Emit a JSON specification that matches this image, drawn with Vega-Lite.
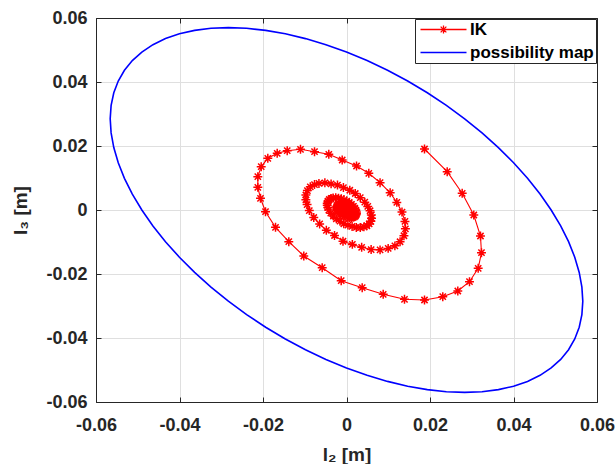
{
"$schema": "https://vega.github.io/schema/vega-lite/v6.json",
"width": 501, "height": 384,
"autosize": {"type": "none"},
"padding": {"left": 96, "top": 18, "right": 19, "bottom": 62},
"background": "white",
"config": {
 "view": {"stroke": "#262626", "strokeWidth": 1},
 "axis": {"domainColor": "#262626", "domainWidth": 1, "tickColor": "#262626", "tickSize": -5, "tickWidth": 1, "gridColor": "#dfdfdf", "gridWidth": 1, "labelFont": "Liberation Sans", "labelFontSize": 18, "labelFontWeight": "bold", "labelColor": "#262626", "titleFont": "Liberation Sans", "titleFontSize": 19, "titleFontWeight": "bold", "titleColor": "#262626", "labelFlush": false, "labelOverlap": false}
},
"datasets": {
 "ellipse": [
  {"i":0,"x":0.05660,"y":-0.02850},{"i":1,"x":0.05638,"y":-0.03269},{"i":2,"x":0.05574,"y":-0.03664},{"i":3,"x":0.05467,"y":-0.04031},{"i":4,"x":0.05319,"y":-0.04366},{"i":5,"x":0.05130,"y":-0.04669},{"i":6,"x":0.04902,"y":-0.04936},{"i":7,"x":0.04636,"y":-0.05166},{"i":8,"x":0.04336,"y":-0.05356},{"i":9,"x":0.04002,"y":-0.05506},{"i":10,"x":0.03638,"y":-0.05613},{"i":11,"x":0.03246,"y":-0.05678},{"i":12,"x":0.02830,"y":-0.05700},{"i":13,"x":0.02392,"y":-0.05678},{"i":14,"x":0.01936,"y":-0.05613},{"i":15,"x":0.01465,"y":-0.05506},{"i":16,"x":0.00983,"y":-0.05356},{"i":17,"x":0.00493,"y":-0.05166},{"i":18,"x":0.0,"y":-0.04936},{"i":19,"x":-0.00493,"y":-0.04669},{"i":20,"x":-0.00983,"y":-0.04366},{"i":21,"x":-0.01465,"y":-0.04031},{"i":22,"x":-0.01936,"y":-0.03664},{"i":23,"x":-0.02392,"y":-0.03269},{"i":24,"x":-0.02830,"y":-0.02850},{"i":25,"x":-0.03246,"y":-0.02409},{"i":26,"x":-0.03638,"y":-0.01950},{"i":27,"x":-0.04002,"y":-0.01475},{"i":28,"x":-0.04336,"y":-0.00990},{"i":29,"x":-0.04636,"y":-0.00497},{"i":30,"x":-0.04902,"y":0.0},{"i":31,"x":-0.05130,"y":0.00497},{"i":32,"x":-0.05319,"y":0.00990},{"i":33,"x":-0.05467,"y":0.01475},{"i":34,"x":-0.05574,"y":0.01950},{"i":35,"x":-0.05638,"y":0.02409},{"i":36,"x":-0.05660,"y":0.02850},{"i":37,"x":-0.05638,"y":0.03269},{"i":38,"x":-0.05574,"y":0.03664},{"i":39,"x":-0.05467,"y":0.04031},{"i":40,"x":-0.05319,"y":0.04366},{"i":41,"x":-0.05130,"y":0.04669},{"i":42,"x":-0.04902,"y":0.04936},{"i":43,"x":-0.04636,"y":0.05166},{"i":44,"x":-0.04336,"y":0.05356},{"i":45,"x":-0.04002,"y":0.05506},{"i":46,"x":-0.03638,"y":0.05613},{"i":47,"x":-0.03246,"y":0.05678},{"i":48,"x":-0.02830,"y":0.05700},{"i":49,"x":-0.02392,"y":0.05678},{"i":50,"x":-0.01936,"y":0.05613},{"i":51,"x":-0.01465,"y":0.05506},{"i":52,"x":-0.00983,"y":0.05356},{"i":53,"x":-0.00493,"y":0.05166},{"i":54,"x":0.0,"y":0.04936},{"i":55,"x":0.00493,"y":0.04669},{"i":56,"x":0.00983,"y":0.04366},{"i":57,"x":0.01465,"y":0.04031},{"i":58,"x":0.01936,"y":0.03664},{"i":59,"x":0.02392,"y":0.03269},{"i":60,"x":0.02830,"y":0.02850},{"i":61,"x":0.03246,"y":0.02409},{"i":62,"x":0.03638,"y":0.01950},{"i":63,"x":0.04002,"y":0.01475},{"i":64,"x":0.04336,"y":0.00990},{"i":65,"x":0.04636,"y":0.00497},{"i":66,"x":0.04902,"y":0.0},{"i":67,"x":0.05130,"y":-0.00497},{"i":68,"x":0.05319,"y":-0.00990},{"i":69,"x":0.05467,"y":-0.01475},{"i":70,"x":0.05574,"y":-0.01950},{"i":71,"x":0.05638,"y":-0.02409},{"i":72,"x":0.05660,"y":-0.02850}
 ],
 "ik": [
  {"i":0,"x":0.01868,"y":0.01906},{"i":1,"x":0.02412,"y":0.01197},{"i":2,"x":0.02771,"y":0.00522},{"i":3,"x":0.03049,"y":-0.00156},{"i":4,"x":0.03209,"y":-0.00813},{"i":5,"x":0.03233,"y":-0.01334},{"i":6,"x":0.03154,"y":-0.01822},{"i":7,"x":0.02946,"y":-0.02241},{"i":8,"x":0.02666,"y":-0.02531},{"i":9,"x":0.02306,"y":-0.02709},{"i":10,"x":0.01868,"y":-0.02813},{"i":11,"x":0.01389,"y":-0.02791},{"i":12,"x":0.00879,"y":-0.02634},{"i":13,"x":0.00376,"y":-0.02428},{"i":14,"x":-0.00127,"y":-0.02209},{"i":15,"x":-0.00582,"y":-0.01803},{"i":16,"x":-0.01023,"y":-0.01438},{"i":17,"x":-0.01382,"y":-0.00991},{"i":18,"x":-0.01700,"y":-0.00541},{"i":19,"x":-0.01940,"y":-0.00053},{"i":20,"x":-0.02060,"y":0.00366},{"i":21,"x":-0.02124,"y":0.00709},{"i":22,"x":-0.02124,"y":0.01041},{"i":23,"x":-0.02043,"y":0.01353},{"i":24,"x":-0.01885,"y":0.01616},{"i":25,"x":-0.01660,"y":0.01772},{"i":26,"x":-0.01420,"y":0.01853},{"i":27,"x":-0.01102,"y":0.01897},{"i":28,"x":-0.00766,"y":0.01822},{"i":29,"x":-0.00424,"y":0.01741},{"i":30,"x":-0.00103,"y":0.01563},{"i":31,"x":0.00240,"y":0.01375},{"i":32,"x":0.00534,"y":0.01147},
  {"i":33,"x":0.00804,"y":0.00854},{"i":34,"x":0.01046,"y":0.00538},{"i":35,"x":0.01205,"y":0.00238},{"i":36,"x":0.01329,"y":-0.00064},{"i":37,"x":0.01400,"y":-0.00356},{"i":38,"x":0.01411,"y":-0.00588},{"i":39,"x":0.01376,"y":-0.00805},{"i":40,"x":0.01283,"y":-0.00992},{"i":41,"x":0.01159,"y":-0.01121},{"i":42,"x":0.00998,"y":-0.01200},{"i":43,"x":0.00804,"y":-0.01246},{"i":44,"x":0.00590,"y":-0.01236},{"i":45,"x":0.00363,"y":-0.01167},{"i":46,"x":0.00140,"y":-0.01075},{"i":47,"x":-0.00084,"y":-0.00977},{"i":48,"x":-0.00287,"y":-0.00797},{"i":49,"x":-0.00483,"y":-0.00634},{"i":50,"x":-0.00643,"y":-0.00435},{"i":51,"x":-0.00784,"y":-0.00235},{"i":52,"x":-0.00891,"y":-0.00018},{"i":53,"x":-0.00944,"y":0.00168},{"i":54,"x":-0.00973,"y":0.00321},{"i":55,"x":-0.00973,"y":0.00469},{"i":56,"x":-0.00937,"y":0.00608},{"i":57,"x":-0.00867,"y":0.00725},{"i":58,"x":-0.00766,"y":0.00794},{"i":59,"x":-0.00660,"y":0.00830},{"i":60,"x":-0.00518,"y":0.00850},{"i":61,"x":-0.00369,"y":0.00816},{"i":62,"x":-0.00216,"y":0.00780},{"i":63,"x":-0.00074,"y":0.00701},{"i":64,"x":0.00079,"y":0.00617},{"i":65,"x":0.00210,"y":0.00516},
  {"i":66,"x":0.00330,"y":0.00385},{"i":67,"x":0.00438,"y":0.00245},{"i":68,"x":0.00509,"y":0.00111},{"i":69,"x":0.00564,"y":-0.00023},{"i":70,"x":0.00595,"y":-0.00153},{"i":71,"x":0.00600,"y":-0.00256},{"i":72,"x":0.00584,"y":-0.00353},{"i":73,"x":0.00543,"y":-0.00436},{"i":74,"x":0.00488,"y":-0.00493},{"i":75,"x":0.00417,"y":-0.00528},{"i":76,"x":0.00330,"y":-0.00549},{"i":77,"x":0.00235,"y":-0.00545},{"i":78,"x":0.00134,"y":-0.00514},{"i":79,"x":0.00034,"y":-0.00473},{"i":80,"x":-0.00065,"y":-0.00429},{"i":81,"x":-0.00155,"y":-0.00349},{"i":82,"x":-0.00243,"y":-0.00277},{"i":83,"x":-0.00314,"y":-0.00188},{"i":84,"x":-0.00377,"y":-0.00099},{"i":85,"x":-0.00424,"y":-0.00003},{"i":86,"x":-0.00448,"y":0.00081},{"i":87,"x":-0.00461,"y":0.00148},{"i":88,"x":-0.00461,"y":0.00214},{"i":89,"x":-0.00445,"y":0.00276},{"i":90,"x":-0.00413,"y":0.00328},{"i":91,"x":-0.00369,"y":0.00359},{"i":92,"x":-0.00321,"y":0.00375},{"i":93,"x":-0.00258,"y":0.00384},{"i":94,"x":-0.00192,"y":0.00369},{"i":95,"x":-0.00124,"y":0.00353},{"i":96,"x":-0.00061,"y":0.00318},{"i":97,"x":0.00007,"y":0.00280},{"i":98,"x":0.00066,"y":0.00235},
  {"i":99,"x":0.00119,"y":0.00177},{"i":100,"x":0.00167,"y":0.00115},{"i":101,"x":0.00199,"y":0.00055},{"i":102,"x":0.00223,"y":-0.00005},{"i":103,"x":0.00237,"y":-0.00063},{"i":104,"x":0.00239,"y":-0.00108},{"i":105,"x":0.00232,"y":-0.00151},{"i":106,"x":0.00214,"y":-0.00188},{"i":107,"x":0.00189,"y":-0.00214},{"i":108,"x":0.00158,"y":-0.00230},{"i":109,"x":0.00119,"y":-0.00239},{"i":110,"x":0.00077,"y":-0.00237},{"i":111,"x":0.00032,"y":-0.00223},{"i":112,"x":-0.00012,"y":-0.00205},{"i":113,"x":-0.00057,"y":-0.00186},{"i":114,"x":-0.00097,"y":-0.00150},{"i":115,"x":-0.00136,"y":-0.00118},{"i":116,"x":-0.00167,"y":-0.00078},{"i":117,"x":-0.00195,"y":-0.00039},{"i":118,"x":-0.00217,"y":0.00004},{"i":119,"x":-0.00227,"y":0.00041},{"i":120,"x":-0.00233,"y":0.00072},{"i":121,"x":-0.00233,"y":0.00101},{"i":122,"x":-0.00226,"y":0.00128},{"i":123,"x":-0.00212,"y":0.00152},{"i":124,"x":-0.00192,"y":0.00165},{"i":125,"x":-0.00171,"y":0.00172},{"i":126,"x":-0.00143,"y":0.00176},{"i":127,"x":-0.00113,"y":0.00170},{"i":128,"x":-0.00083,"y":0.00163},{"i":129,"x":-0.00055,"y":0.00147},{"i":130,"x":-0.00025,"y":0.00130},{"i":131,"x":0.00001,"y":0.00110},
  {"i":132,"x":0.00025,"y":0.00084},{"i":133,"x":0.00047,"y":0.00057},{"i":134,"x":0.00061,"y":0.00030},{"i":135,"x":0.00071,"y":0.00004},{"i":136,"x":0.00078,"y":-0.00022},{"i":137,"x":0.00079,"y":-0.00043},{"i":138,"x":0.00076,"y":-0.00062},{"i":139,"x":0.00067,"y":-0.00078},{"i":140,"x":0.00056,"y":-0.00090},{"i":141,"x":0.00042,"y":-0.00097},{"i":142,"x":0.00025,"y":-0.00101},{"i":143,"x":0.00006,"y":-0.00100},{"i":144,"x":-0.00014,"y":-0.00094},{"i":145,"x":-0.00033,"y":-0.00086},{"i":146,"x":-0.00053,"y":-0.00077},{"i":147,"x":-0.00071,"y":-0.00061},{"i":148,"x":-0.00088,"y":-0.00047},{"i":149,"x":-0.00102,"y":-0.00029},{"i":150,"x":-0.00115,"y":-0.00012},{"i":151,"x":-0.00124,"y":0.00008},{"i":152,"x":-0.00129,"y":0.00024},{"i":153,"x":-0.00131,"y":0.00037},{"i":154,"x":-0.00131,"y":0.00050},{"i":155,"x":-0.00128,"y":0.00063},{"i":156,"x":-0.00122,"y":0.00073},{"i":157,"x":-0.00113,"y":0.00079},{"i":158,"x":-0.00104,"y":0.00082},{"i":159,"x":-0.00091,"y":0.00084},{"i":160,"x":-0.00078,"y":0.00081},{"i":161,"x":-0.00065,"y":0.00078},{"i":162,"x":-0.00052,"y":0.00071},{"i":163,"x":-0.00039,"y":0.00064},{"i":164,"x":-0.00027,"y":0.00055}
 ]
},
"layer": [
 {
  "data": {"name": "ellipse"},
  "mark": {"type": "line", "strokeWidth": 1.6, "interpolate": "linear"},
  "encoding": {
   "x": {"field": "x", "type": "quantitative", "scale": {"domain": [-0.06, 0.06], "nice": false, "zero": false},
    "axis": {"orient": "bottom", "values": [-0.06, -0.04, -0.02, 0, 0.02, 0.04, 0.06], "grid": true, "labelExpr": "datum.value == 0 ? '0' : (datum.value < 0 ? '-' : '') + format(abs(datum.value), '.2f')", "labelPadding": 19, "title": "l₂ [m]", "titleY": 58, "titleBaseline": "alphabetic"}},
   "y": {"field": "y", "type": "quantitative", "scale": {"domain": [-0.06, 0.06], "nice": false, "zero": false},
    "axis": {"orient": "left", "values": [-0.06, -0.04, -0.02, 0, 0.02, 0.04, 0.06], "grid": true, "labelExpr": "datum.value == 0 ? '0' : (datum.value < 0 ? '-' : '') + format(abs(datum.value), '.2f')", "labelPadding": 14, "title": "l₃ [m]", "titleX": -70, "titleY": 192, "titleBaseline": "alphabetic"}},
   "order": {"field": "i", "type": "quantitative"},
   "color": {"datum": "possibility map", "type": "nominal",
    "scale": {"domain": ["IK", "possibility map"], "range": ["#ff0000", "#0000ff"]},
    "legend": {"orient": "top-right", "offset": 1, "title": null, "padding": 2, "labelFont": "Liberation Sans", "labelFontSize": 17, "labelFontWeight": "bold", "labelColor": "#000000", "strokeColor": "#262626", "fillColor": "white", "symbolSize": 100, "labelOffset": 36, "rowPadding": 5, "symbolStrokeWidth": 1.3,
     "encode": {"symbols": {"update": {"shape": {"signal": "datum.value === 'IK' ? 'M-1,0H8.2M3.6,-0.8V0.8M2.8,0H4.4M3.03,-0.57L4.17,0.57M3.03,0.57L4.17,-0.57' : 'M-1,0H8.2'"}}}}}}
  }
 },
 {
  "data": {"name": "ik"},
  "mark": {"type": "line", "strokeWidth": 1.1},
  "encoding": {
   "x": {"field": "x", "type": "quantitative", "scale": {"domain": [-0.06, 0.06], "nice": false, "zero": false},
    "axis": {"orient": "top", "values": [-0.06, -0.04, -0.02, 0, 0.02, 0.04, 0.06], "labels": false, "grid": false, "title": null}},
   "y": {"field": "y", "type": "quantitative", "scale": {"domain": [-0.06, 0.06], "nice": false, "zero": false},
    "axis": {"orient": "right", "values": [-0.06, -0.04, -0.02, 0, 0.02, 0.04, 0.06], "labels": false, "grid": false, "title": null}},
   "order": {"field": "i", "type": "quantitative"},
   "color": {"datum": "IK", "type": "nominal"}
  }
 },
 {
  "data": {"name": "ik"},
  "mark": {"type": "point", "shape": "M-1,0H1M0,-1V1M-0.7,-0.7L0.7,0.7M-0.7,0.7L0.7,-0.7", "filled": false, "stroke": "#ff0000", "strokeWidth": 1.5, "size": 80, "opacity": 1},
  "encoding": {
   "x": {"field": "x", "type": "quantitative", "axis": null},
   "y": {"field": "y", "type": "quantitative", "axis": null}
  }
 }
],
"resolve": {"axis": {"x": "independent", "y": "independent"}}
}
